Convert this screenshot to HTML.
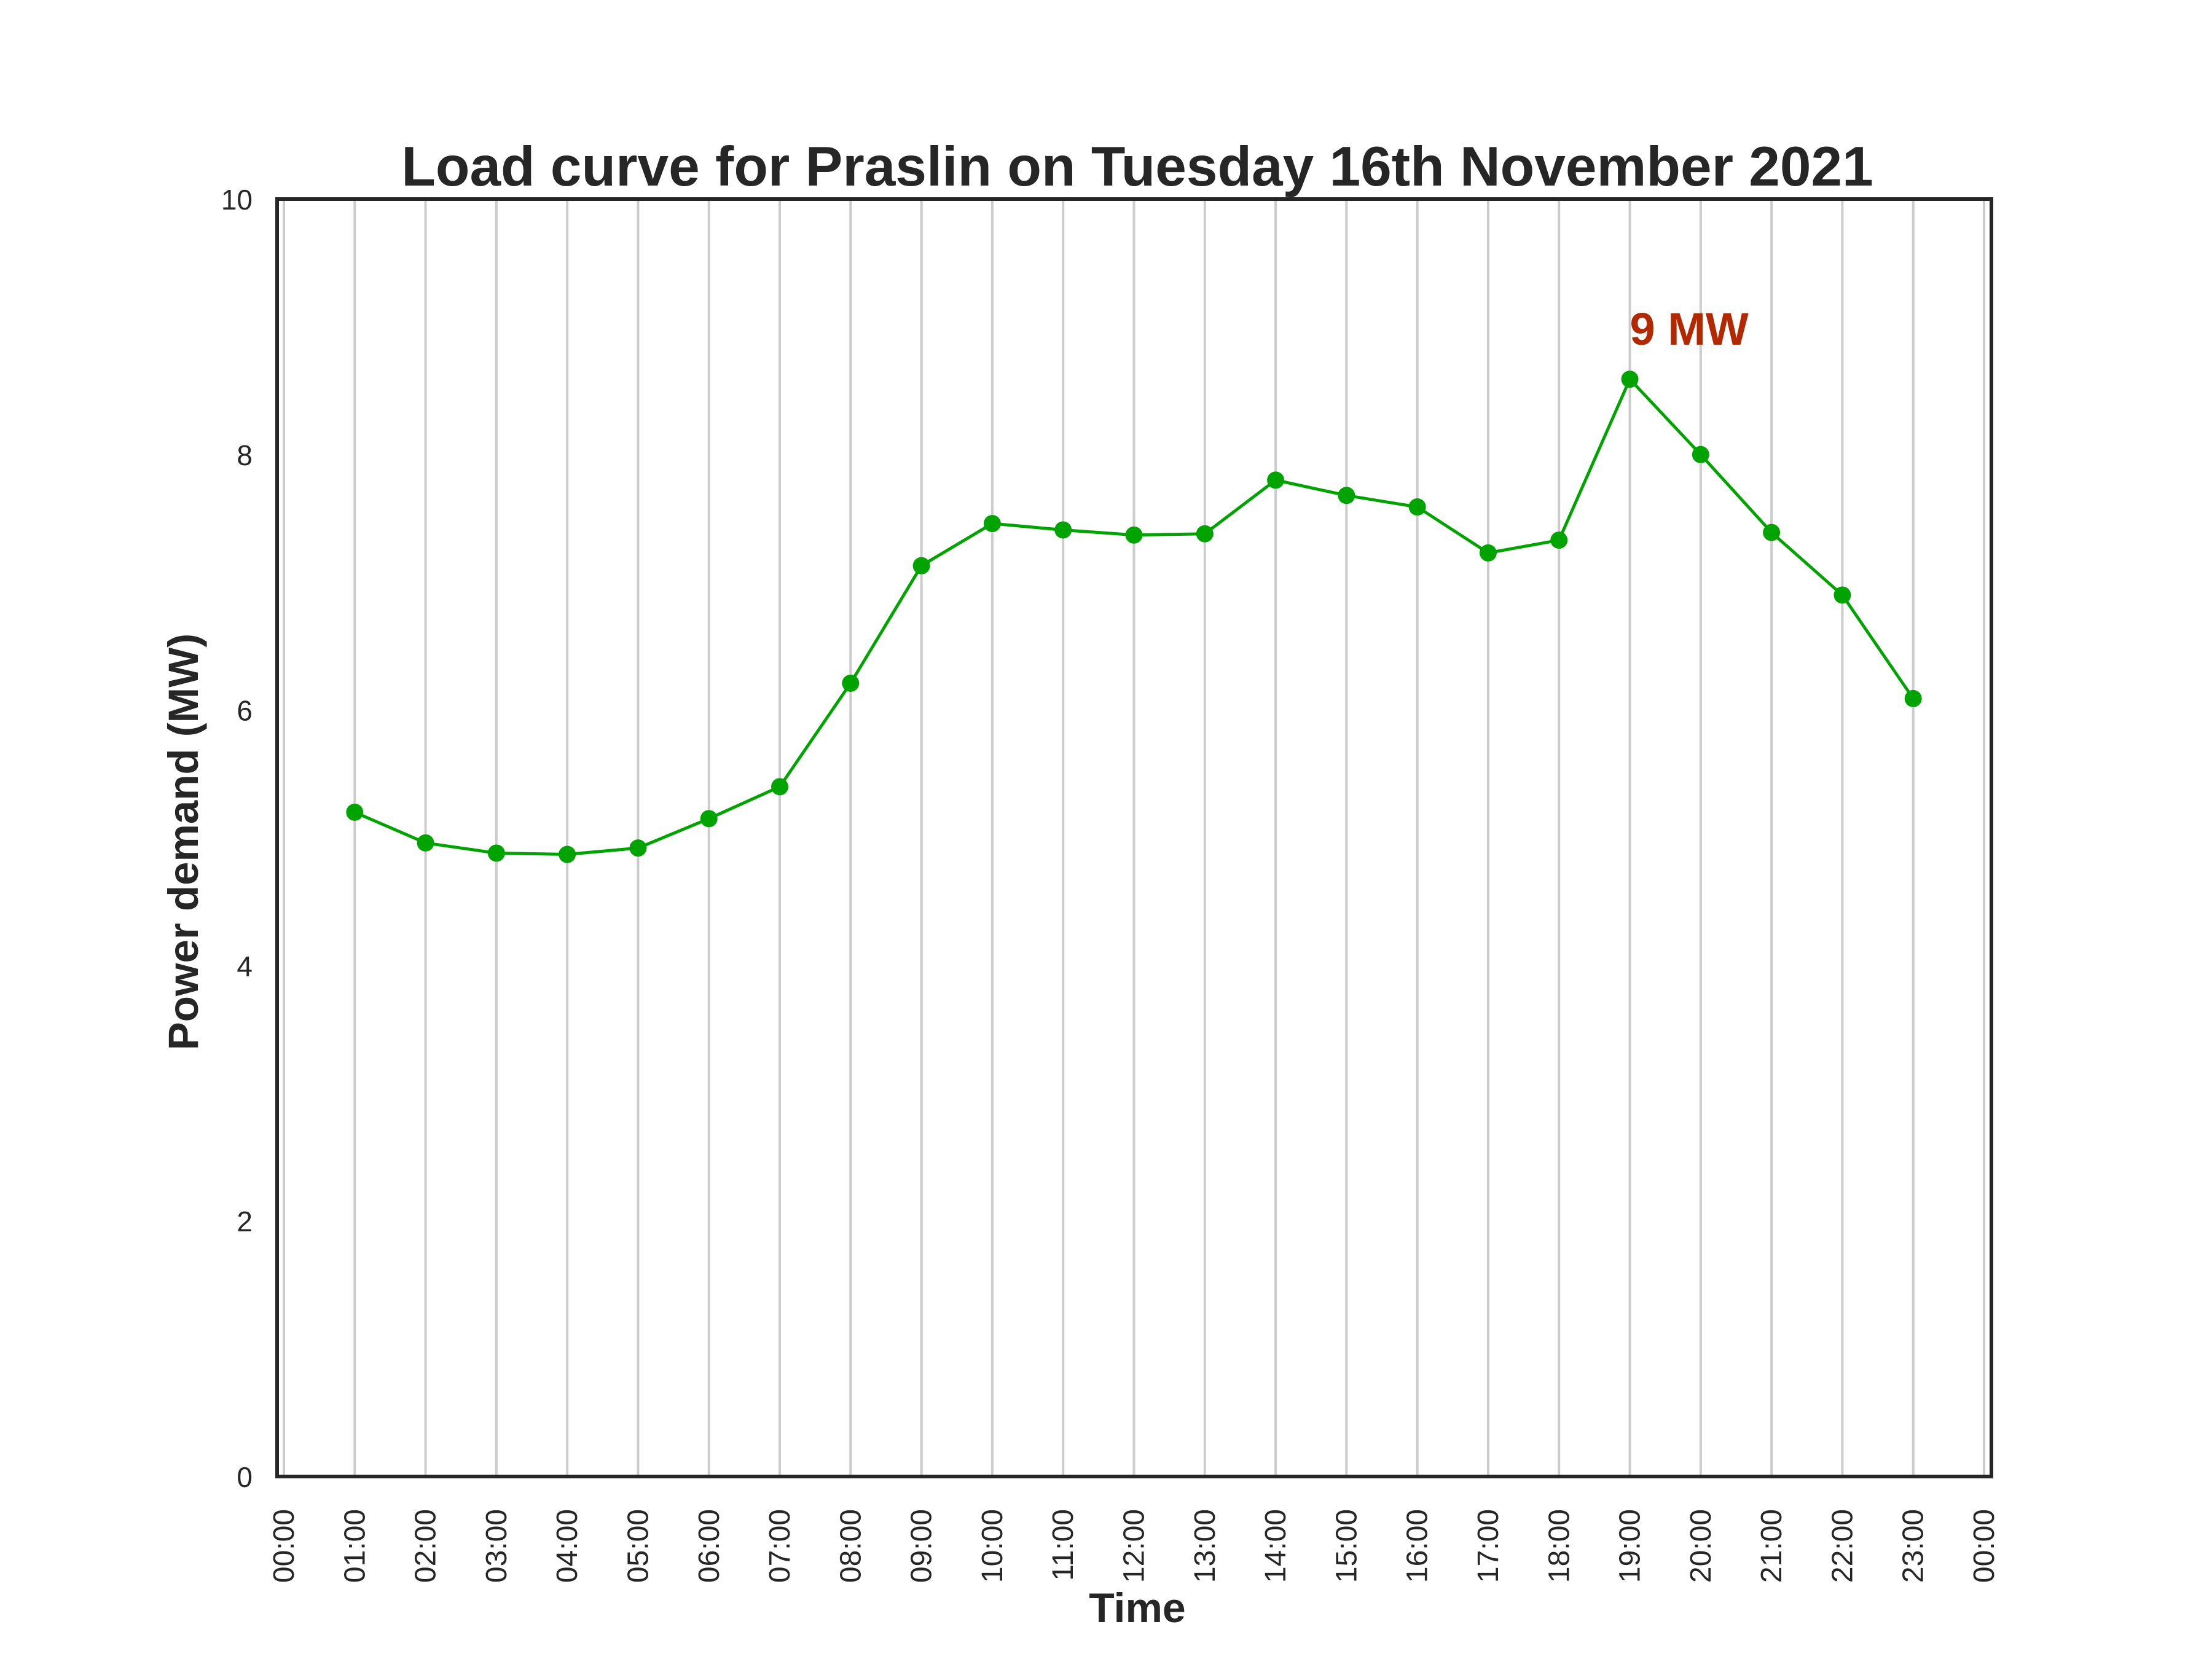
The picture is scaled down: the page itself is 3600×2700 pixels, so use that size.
<!DOCTYPE html>
<html><head><meta charset="utf-8"><style>body{margin:0;background:#fff}svg{display:block}</style></head>
<body>
<svg id="chart" width="3600" height="2700" xmlns="http://www.w3.org/2000/svg" font-family="Liberation Sans, Arial, sans-serif">
<rect width="3600" height="2700" fill="#fff"/>
<g id="grid"></g>
<g id="ticks"></g>
<g id="series"></g>
<rect x="451" y="324" width="2790" height="2079" fill="none" stroke="#262626" stroke-width="6"/>
<text x="1851" y="302" font-size="91" font-weight="bold" fill="#262626" text-anchor="middle">Load curve for Praslin on Tuesday 16th November 2021</text>
<text x="1851" y="2640" font-size="68" font-weight="bold" fill="#262626" text-anchor="middle">Time</text>
<text transform="translate(322,1370) rotate(-90)" font-size="69" font-weight="bold" fill="#262626" text-anchor="middle">Power demand (MW)</text>
</svg>
<script>
const hours = [1,2,3,4,5,6,7,8,9,10,11,12,13,14,15,16,17,18,19,20,21,22,23];
const demand = [5.20,4.96,4.88,4.87,4.92,5.15,5.40,6.21,7.13,7.46,7.41,7.37,7.38,7.80,7.68,7.59,7.23,7.33,8.59,8.00,7.39,6.90,6.09];
const xTickLabels = ["00:00","01:00","02:00","03:00","04:00","05:00","06:00","07:00","08:00","09:00","10:00","11:00","12:00","13:00","14:00","15:00","16:00","17:00","18:00","19:00","20:00","21:00","22:00","23:00","00:00"];
const yTicks = [0,2,4,6,8,10];
const peakLabel = "9 MW";

const NS = "http://www.w3.org/2000/svg";
const X = h => 462 + h * (3229 - 462) / 24;
const Y = v => 2403 - v * (2403 - 324) / 10;
function mk(tag, attrs, parent, text){
  const e = document.createElementNS(NS, tag);
  for (const k in attrs) e.setAttribute(k, attrs[k]);
  if (text !== undefined) e.textContent = text;
  parent.appendChild(e); return e;
}
const grid = document.getElementById('grid'), ticks = document.getElementById('ticks'), series = document.getElementById('series');
xTickLabels.forEach((lab, i) => {
  const gl = mk('line', {x1: X(i), x2: X(i), y1: 324, y2: 2403, stroke: '#cccccc', 'stroke-width': 4}, grid);
  
  
  const t = mk('text', {transform: `translate(${X(i) + 16},2456) rotate(-90)`, 'font-size': 48, fill: '#262626', 'text-anchor': 'end'}, ticks, lab);
  
  
});
yTicks.forEach(v => {
  const t = mk('text', {x: 411, y: Y(v) + 17, 'font-size': 46, fill: '#262626', 'text-anchor': 'end'}, ticks, String(v));
  
  
});
const pts = hours.map((h, i) => X(h) + ',' + Y(demand[i])).join(' ');
const line = mk('polyline', {points: pts, fill: 'none', stroke: '#00a300', 'stroke-width': 5, 'stroke-linejoin': 'round'}, series);


hours.forEach((h, i) => {
  const c = mk('circle', {cx: X(h), cy: Y(demand[i]), r: 14, fill: '#00a300'}, series);
  
  
});
let pi = 0; demand.forEach((v, i) => { if (v > demand[pi]) pi = i; });
const pl = mk('text', {x: X(hours[pi]), y: Y(demand[pi]) - 56, 'font-size': 74, 'font-weight': 'bold', fill: '#b22800'}, series, peakLabel);


</script>
</body></html>
